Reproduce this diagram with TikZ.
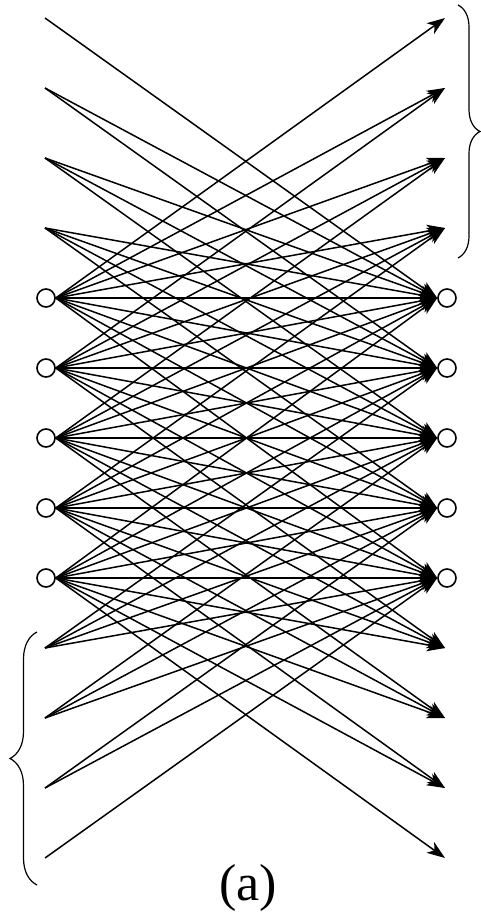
\documentclass[tikz,border=0pt]{standalone}
\usepackage{fontspec}
\setmainfont{Liberation Serif}
\usetikzlibrary{arrows.meta, decorations.pathreplacing}

\begin{document}
\begin{tikzpicture}[
x=0.5pt, y=-0.5pt,
neuron/.style={circle, draw, line width=0.8pt, minimum size=9pt, inner sep=0pt},
arr/.style={-{Stealth[length=9pt, width=6.5pt, inset=2.5pt]}, line width=0.75pt},
grp/.style={decorate, decoration={brace, amplitude=#1}, line width=0.6pt}
]
\useasboundingbox (0,0) rectangle (481,915);

% rows: 4..8 are units, the others are padding
\foreach \i in {0,...,12} {
  \pgfmathsetmacro{\y}{18+70*\i}
  \pgfmathtruncatemacro{\unit}{and(\i>3, \i<9)}
  \ifnum\unit=1
    \node[neuron] (l\i) at (46,\y) {};
    \node[neuron] (r\i) at (447,\y) {};
    \coordinate (in\i) at (l\i.east);
    \coordinate (out\i) at (r\i.west);
  \else
    \coordinate (in\i) at (45,\y);
    \coordinate (out\i) at (445,\y);
  \fi
}

% connections within distance 4
\foreach \i in {0,...,12} {
  \foreach \j in {0,...,12} {
    \pgfmathtruncatemacro{\ok}{and(abs(\i-\j)<5, or(and(\i>3,\i<9), and(\j>3,\j<9)))}
    \ifnum\ok=1 \draw[arr] (in\i) -- (out\j); \fi
  }
}

\draw[grp=11pt] (458,5) -- (458,258);
\draw[grp=13.5pt] (37,885) -- (37,632);

\node[font=\fontsize{26}{30}\selectfont] (lab) at (248,888) {(a)};
\end{tikzpicture}
\end{document}
